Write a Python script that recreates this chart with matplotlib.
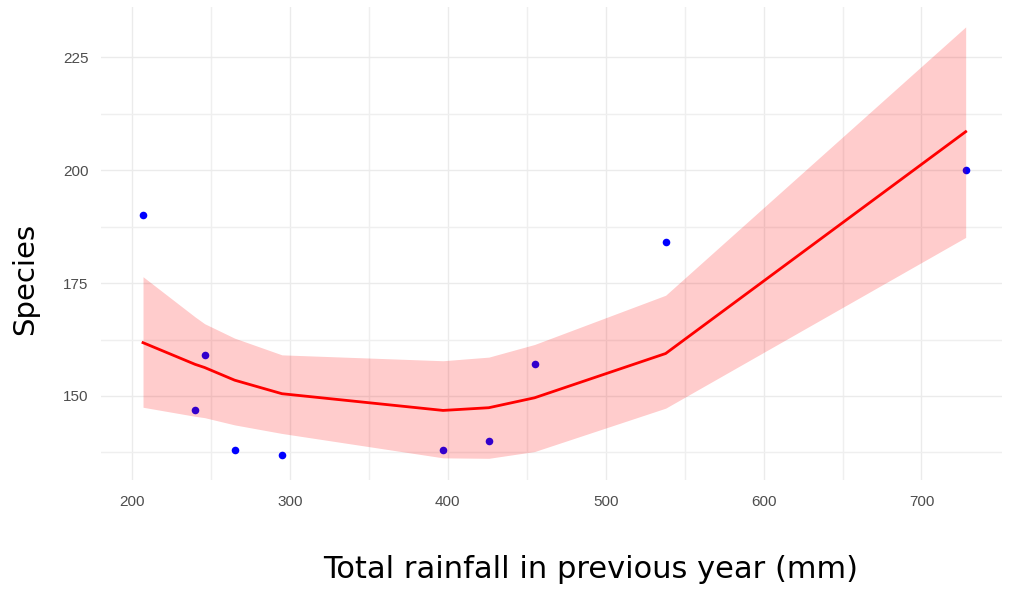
import matplotlib.pyplot as plt
import numpy as np

# observed points
rain = [207, 246, 240, 265, 295, 397, 426, 455, 538, 728]
species = [190, 159, 147, 138, 137, 138, 140, 157, 184, 200]

# smoothed fit and its confidence band
fit_x = [207, 240, 246, 265, 295, 397, 426, 455, 538, 728]
fit_y = [161.8, 157.0, 156.3, 153.5, 150.5, 146.8, 147.4, 149.6, 159.4, 208.5]
fit_hi = [176.4, 167.5, 166.0, 162.8, 159.1, 157.8, 158.6, 161.4, 172.3, 231.7]
fit_lo = [147.5, 145.5, 145.2, 143.6, 141.7, 136.3, 136.2, 137.7, 147.3, 185.1]

xticks = [200, 300, 400, 500, 600, 700]
yticks = [150, 175, 200, 225]

fig = plt.figure(figsize=(10.23, 5.91), dpi=100)
ax = fig.add_axes([101 / 1023, 1 - 480 / 591, 901 / 1023, 473 / 591])

ax.scatter(rain, species, s=30, color='#0000ff', zorder=2, linewidths=0)
ax.fill_between(fit_x, fit_lo, fit_hi, color='red', alpha=0.2, linewidth=0, zorder=3)
ax.plot(fit_x, fit_y, color='red', linewidth=2, zorder=4)

ax.set_xlim(180.4, 751)
ax.set_ylim(131.4, 236.1)
ax.set_xticks(xticks)
ax.set_yticks(yticks)
ax.set_xticks([250, 350, 450, 550, 650], minor=True)
ax.set_yticks([137.5, 162.5, 187.5, 212.5], minor=True)

# minimal theme
for s in ax.spines.values():
    s.set_visible(False)
ax.grid(True, which='major', color='#ebebeb', linewidth=1.0)
ax.grid(True, which='minor', color='#efefef', linewidth=1.0)
ax.set_axisbelow(True)
ax.tick_params(which='both', length=0, labelsize=11, labelcolor='#4d4d4d')
for lab in ax.get_xticklabels() + ax.get_yticklabels():
    lab.set_fontfamily('Liberation Sans')
ax.tick_params(axis='x', pad=11)
ax.tick_params(axis='y', pad=9)

fig.text(591 / 1023, 1 - 570 / 591, 'Total rainfall in previous year (mm)',
         ha='center', va='center', fontsize=22, color='black')
fig.text(25 / 1023, 1 - 279 / 591, 'Species', rotation=90,
         ha='center', va='center', fontsize=21, color='black')

fig.savefig('out.png', dpi=100, facecolor='white')
